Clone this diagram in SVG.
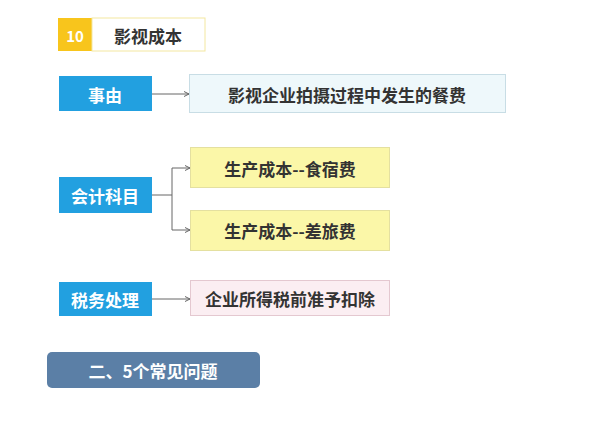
<svg xmlns="http://www.w3.org/2000/svg" width="612" height="424" viewBox="0 0 612 424">
<defs>
<style>
text{font-family:"Noto Sans CJK SC","Liberation Sans",sans-serif;font-weight:bold;dominant-baseline:central;text-anchor:middle}
.b{fill:#22a0e0}.bt{fill:#fff;font-size:17px}.t{fill:#333;font-size:17px}
.c{stroke:#666;stroke-width:1;fill:none;marker-end:url(#a)}
</style>
<marker id="a" markerWidth="6" markerHeight="6" refX="5" refY="3" orient="auto"><path d="M0,0.5L5,3L0,5.5" fill="none" stroke="#666"/></marker>
</defs>
<rect width="612" height="424" fill="#fff"/>
<g id="header"><rect x="58" y="18" width="34" height="33" fill="#f8c51c"/><rect x="92" y="18" width="113" height="33" fill="#fff" stroke="#f3e7a0"/>
<text x="75" y="35" fill="#fff" font-size="15">10</text><text x="148" y="35" class="t" font-weight="normal" font-size="16">影视成本</text></g>
<g id="n1"><rect x="59" y="76" width="93" height="35" class="b"/><text x="105" y="94" class="bt">事由</text></g>
<g id="n2"><rect x="189.5" y="74.5" width="316" height="38" fill="#eef8fb" stroke="#c8dde5"/><text x="347" y="94" class="t">影视企业拍摄过程中发生的餐费</text></g>
<g id="n3"><rect x="59" y="177" width="93" height="36" class="b"/><text x="105" y="195" class="bt">会计科目</text></g>
<g id="n4"><rect x="190.5" y="147.5" width="199" height="40" fill="#fbf7a8" stroke="#e4e0a0"/><text x="290" y="168" class="t">生产成本--食宿费</text></g>
<g id="n5"><rect x="190.5" y="210.5" width="199" height="40" fill="#fbf7a8" stroke="#e4e0a0"/><text x="290" y="230" class="t">生产成本--差旅费</text></g>
<g id="n6"><rect x="59" y="282" width="93" height="34" class="b"/><text x="105" y="299" class="bt">税务处理</text></g>
<g id="n7"><rect x="190.5" y="280.5" width="199" height="35" fill="#fbeef2" stroke="#e4c8d0"/><text x="290" y="298" class="t">企业所得税前准予扣除</text></g>
<g id="n8"><rect x="47" y="352" width="213" height="36" rx="5" fill="#5b7fa6"/><text x="153" y="370" class="bt">二、5个常见问题</text></g>
<g id="connectors">
<path d="M152,94H189" class="c"/>
<path d="M152,195H172V168H190" class="c"/>
<path d="M172,195V230H190" class="c"/>
<path d="M152,299H190" class="c"/>
</g>
</svg>
